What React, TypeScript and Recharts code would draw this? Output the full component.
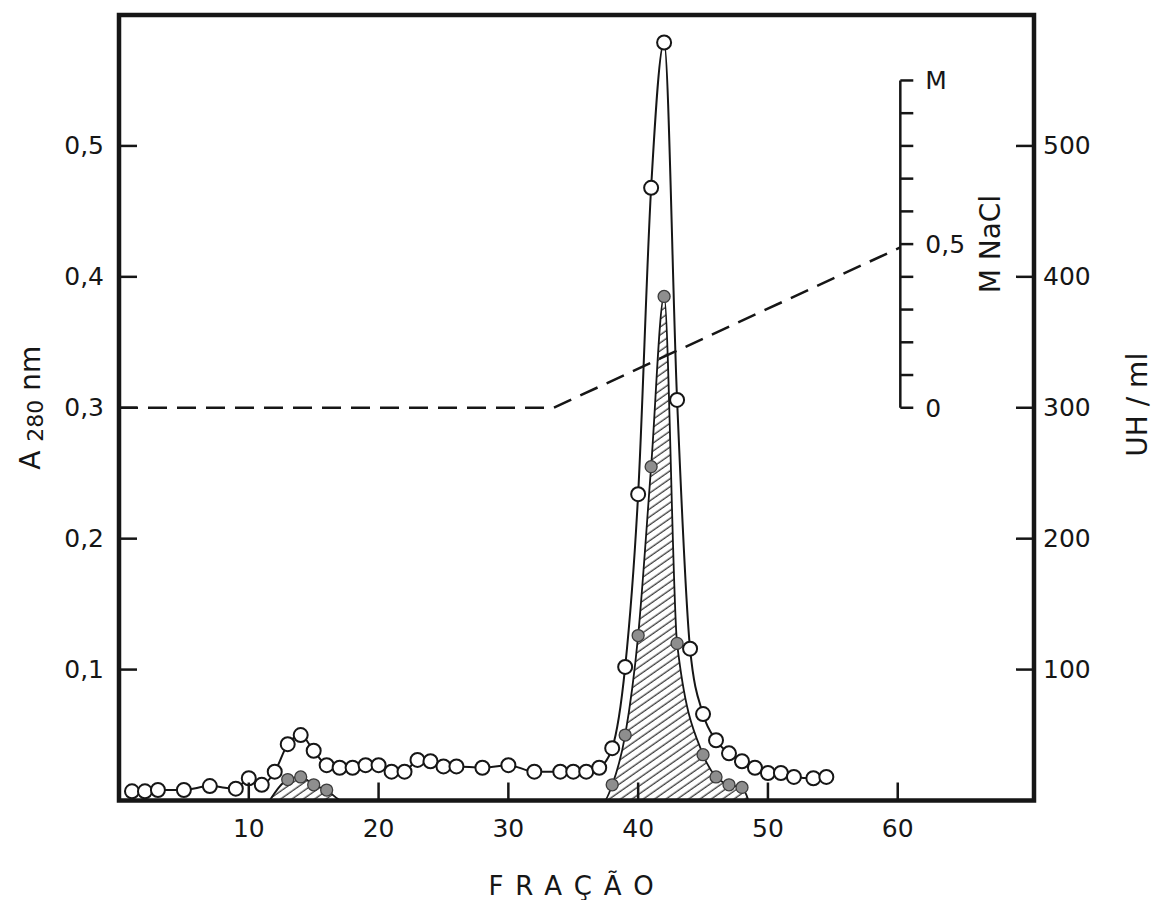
import React from 'react';
import {
  ComposedChart,
  Line,
  Area,
  XAxis,
  YAxis,
  ReferenceLine,
  ReferenceArea,
} from 'recharts';

const INK = '#161616';
const FONT = '"DejaVu Sans", sans-serif';

// Open circles: absorbance at 280 nm, per fraction.
const A280_FRACTIONS = [
  1, 2, 3, 5, 7, 9, 10, 11, 12, 13, 14, 15, 16, 17, 18, 19, 20, 21, 22, 23, 24, 25, 26,
  28, 30, 32, 34, 35, 36, 37, 38, 39, 40, 41, 42, 43, 44, 45, 46, 47, 48, 49, 50, 51, 52,
  53.5, 54.5,
];
const A280_VALUES = [
  0.007, 0.007, 0.008, 0.008, 0.011, 0.009, 0.017, 0.012, 0.022, 0.043, 0.05, 0.038,
  0.027, 0.025, 0.025, 0.027, 0.027, 0.022, 0.022, 0.031, 0.03, 0.026, 0.026, 0.025,
  0.027, 0.022, 0.022, 0.022, 0.022, 0.025, 0.04, 0.102, 0.234, 0.468, 0.579, 0.306,
  0.116, 0.066, 0.046, 0.036, 0.03, 0.025, 0.021, 0.021, 0.018, 0.017, 0.018,
];

// Filled dots: activity UH/ml (hatched area). Zeros mark where the curve meets the base.
const UH_FRACTIONS = [11.6, 13, 14, 15, 16, 17.2, 37.4, 38, 39, 40, 41, 42, 43, 45, 46, 47, 48, 48.5];
const UH_VALUES = [0, 16, 18, 12, 8, 0, 0, 12, 50, 126, 255, 385, 120, 35, 18, 12, 10, 0];

// Dashed NaCl gradient (M).
const NACL_FRACTIONS = [0, 33.5, 60.2];
const NACL_VALUES = [0, 0, 0.49];

const X_TICKS = [10, 20, 30, 40, 50, 60];
const A_TICKS = [0.1, 0.2, 0.3, 0.4, 0.5];
const UH_TICKS = [100, 200, 300, 400, 500];
const NACL_TICKS = [0, 0.1, 0.2, 0.3, 0.4, 0.5, 0.6, 0.7, 0.8, 0.9, 1];
const NACL_LABELS: Record<number, string> = { 0: '0', 0.5: '0,5', 1: 'M' };

const X_MAX = 70.5;
const NACL_AXIS_AT = 60.2;
const NACL_TICK_LEN = 1;

const a280 = A280_FRACTIONS.map((f, i) => ({ f, a: A280_VALUES[i] }));
const uh = UH_FRACTIONS.map((f, i) => ({ f, uh: UH_VALUES[i] }));
const nacl = NACL_FRACTIONS.map((f, i) => ({ f, m: NACL_VALUES[i] }));

const TICK_FS = 25;
const TITLE_FS = 28;

const LeftTick = (p: any) => (
  <g>
    <line x1={p.x} x2={p.x + 18} y1={p.y} y2={p.y} stroke={INK} strokeWidth={2.5} />
    <text x={p.x - 15} y={p.y} textAnchor="end" dominantBaseline="central" fontSize={TICK_FS} fill={INK}>
      {String(p.payload.value).replace('.', ',')}
    </text>
  </g>
);

const RightTick = (p: any) => (
  <g>
    <line x1={p.x - 18} x2={p.x} y1={p.y} y2={p.y} stroke={INK} strokeWidth={2.5} />
    <text x={p.x + 9} y={p.y} textAnchor="start" dominantBaseline="central" fontSize={TICK_FS} fill={INK}>
      {p.payload.value}
    </text>
  </g>
);

const BottomTick = (p: any) => (
  <g>
    <line x1={p.x} x2={p.x} y1={p.y - 18} y2={p.y} stroke={INK} strokeWidth={2.5} />
    <text x={p.x} y={p.y + 28} textAnchor="middle" dominantBaseline="central" fontSize={TICK_FS} fill={INK}>
      {p.payload.value}
    </text>
  </g>
);

const uhDot = (p: any) =>
  p.payload && p.payload.uh > 0 ? (
    <circle key={p.index} cx={p.cx} cy={p.cy} r={6} fill="#8e8e8e" stroke="#3c3c3c" strokeWidth={1.3} />
  ) : (
    <g key={p.index} />
  );

export default function App() {
  return (
    <div style={{ width: 1157, height: 900, background: '#fff' }}>
      <style>{`body{margin:0}`}</style>
      <ComposedChart
        width={1157}
        height={900}
        margin={{ top: 15, right: 23, bottom: 39.5, left: 19 }}
        style={{ fontFamily: FONT }}
      >
        <defs>
          <pattern id="hatch" width="6.5" height="6.5" patternUnits="userSpaceOnUse" patternTransform="rotate(55)">
            <line x1="3" y1="0" x2="3" y2="6.5" stroke={INK} strokeWidth="1.1" />
          </pattern>
        </defs>
        <XAxis
          type="number"
          dataKey="f"
          domain={[0, X_MAX]}
          ticks={X_TICKS}
          allowDataOverflow
          height={60}
          axisLine={false}
          tickLine={false}
          tickSize={0}
          tickMargin={0}
          tick={BottomTick}
          label={(props: any) => {
            const vb = props.viewBox;
            return (
              <text
                x={vb.x + 458}
                y={vb.y + 85}
                textAnchor="middle"
                dominantBaseline="central"
                fontSize={26}
                letterSpacing={12}
                fill={INK}
              >
                FRAÇÃO
              </text>
            );
          }}
        />
        <YAxis
          yAxisId="a"
          orientation="left"
          type="number"
          domain={[0, 0.6]}
          ticks={A_TICKS}
          width={100}
          axisLine={false}
          tickLine={false}
          tickSize={0}
          tickMargin={0}
          tick={LeftTick}
          label={(props: any) => {
            const vb = props.viewBox;
            const cx = vb.x + 11;
            const cy = vb.y + vb.height / 2;
            return (
              <text
                x={cx}
                y={cy}
                transform={`rotate(-90 ${cx} ${cy})`}
                textAnchor="middle"
                dominantBaseline="central"
                fontSize={TITLE_FS}
                fill={INK}
              >
                <tspan>A </tspan>
                <tspan fontSize={22} dy={5}>280</tspan>
                <tspan dy={-5}> nm</tspan>
              </text>
            );
          }}
        />
        <YAxis
          yAxisId="uh"
          orientation="right"
          type="number"
          domain={[0, 600]}
          ticks={UH_TICKS}
          width={100}
          axisLine={false}
          tickLine={false}
          tickSize={0}
          tickMargin={0}
          tick={RightTick}
          label={(props: any) => {
            const vb = props.viewBox;
            const cx = vb.x + 103;
            const cy = vb.y + vb.height / 2 - 3;
            return (
              <text
                x={cx}
                y={cy}
                transform={`rotate(-90 ${cx} ${cy})`}
                textAnchor="middle"
                dominantBaseline="central"
                fontSize={TITLE_FS}
                fill={INK}
              >
                UH / ml
              </text>
            );
          }}
        />
        <YAxis yAxisId="nacl" hide type="number" domain={[-1.2, 1.2]} />

        <Area
          yAxisId="uh"
          data={uh}
          dataKey="uh"
          type="monotone"
          stroke={INK}
          strokeWidth={1.8}
          fill="url(#hatch)"
          fillOpacity={1}
          dot={uhDot}
          activeDot={false}
          isAnimationActive={false}
        />
        <Line
          yAxisId="nacl"
          data={nacl}
          dataKey="m"
          type="linear"
          stroke={INK}
          strokeWidth={2.5}
          strokeDasharray="19 10"
          dot={false}
          activeDot={false}
          isAnimationActive={false}
        />
        <Line
          yAxisId="a"
          data={a280}
          dataKey="a"
          type="monotone"
          stroke={INK}
          strokeWidth={2}
          dot={{ r: 7, fill: '#fff', stroke: INK, strokeWidth: 2 }}
          activeDot={false}
          isAnimationActive={false}
        />

        <ReferenceLine
          yAxisId="nacl"
          segment={[
            { x: NACL_AXIS_AT, y: 0 },
            { x: NACL_AXIS_AT, y: 1 },
          ]}
          stroke={INK}
          strokeWidth={2.5}
          label={(props: any) => {
            const vb = props.viewBox;
            const cx = vb.x + 90;
            const cy = vb.y + vb.height / 2;
            return (
              <text
                x={cx}
                y={cy}
                transform={`rotate(-90 ${cx} ${cy})`}
                textAnchor="middle"
                dominantBaseline="central"
                fontSize={TITLE_FS}
                fill={INK}
              >
                M NaCl
              </text>
            );
          }}
        />
        {NACL_TICKS.map((t) => (
          <ReferenceLine
            key={t}
            yAxisId="nacl"
            segment={[
              { x: NACL_AXIS_AT, y: t },
              { x: NACL_AXIS_AT + NACL_TICK_LEN, y: t },
            ]}
            stroke={INK}
            strokeWidth={2.5}
            label={
              NACL_LABELS[t]
                ? { value: NACL_LABELS[t], position: 'right', offset: 12, fill: INK, fontSize: TICK_FS }
                : undefined
            }
          />
        ))}

        <ReferenceArea
          yAxisId="a"
          x1={0}
          x2={X_MAX}
          y1={0}
          y2={0.6}
          ifOverflow="visible"
          fill="none"
          fillOpacity={0}
          stroke={INK}
          strokeWidth={4.5}
        />
      </ComposedChart>
    </div>
  );
}
